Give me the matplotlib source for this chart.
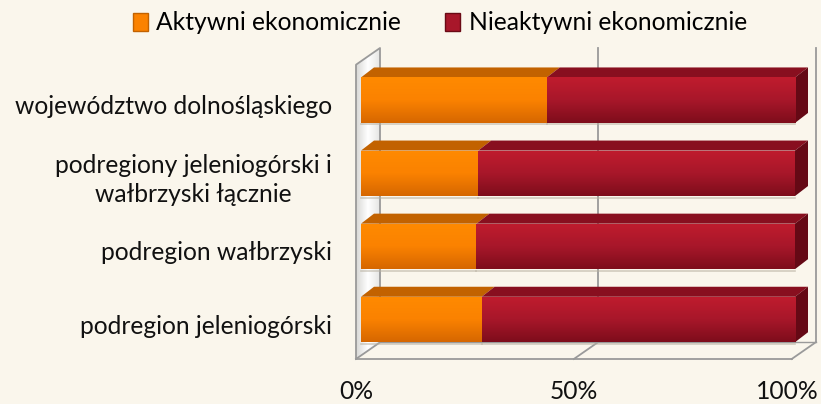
import numpy as np
import matplotlib
matplotlib.use("Agg")
import matplotlib.pyplot as plt
from matplotlib.patches import Polygon, Patch
from matplotlib.colors import LinearSegmentedColormap

categories = ["województwo dolnośląskiego",
              "podregiony jeleniogórski i\nwałbrzyski łącznie",
              "podregion wałbrzyski",
              "podregion jeleniogórski"]
aktywni = [42.8, 27.0, 26.6, 27.8]
nieaktywni = [57.2, 73.0, 73.4, 72.2]
series_names = ["Aktywni ekonomicznie", "Nieaktywni ekonomicznie"]
tick_labels = ["0%", "50%", "100%"]
tick_values = [0, 0.5, 1.0]

plt.rcParams['font.family'] = ['Lato', 'DejaVu Sans']
FS = 17.7

W, H = 821, 404
fig = plt.figure(figsize=(W / 100, H / 100), dpi=100)
bg = '#FAF6EC'
fig.patch.set_facecolor(bg)

# x: 0..1 -> px 361..795 ; padded range so 3D parts are not clipped
px0, px1 = 361, 795
xpx = px1 - px0
pad = 40 / xpx
XL = (-pad, 1 + pad)
ax_left_px = px0 - 40
ax_right_px = px1 + 40
px_top, px_bot = 40, 372
ax = fig.add_axes([ax_left_px / W, (H - px_bot) / H, (ax_right_px - ax_left_px) / W, (px_bot - px_top) / H])
ax.set_facecolor('none')
ypx = 73.1
y_top = -(100.2 - px_top) / ypx
y_bot = 3 + (px_bot - 319.5) / ypx
ax.set_xlim(*XL)
ax.set_ylim(y_bot, y_top)
ax.axis('off')

# wall geometry (data units)
wdx, wdy = 24 / xpx, -16.7 / ypx
bdx, bdy = 13 / xpx, -10 / ypx
wx0 = -5 / xpx
wscale = (791.7 - 356) / xpx
floor_y = 3 + (359 - 319.5) / ypx
back_top = -(100.2 - 48) / ypx

def wx(f):
    return wx0 + f * wscale

gc = '#9a9a9a'
# left wall
lw_poly = Polygon([(wx(0), floor_y), (wx(0) + wdx, floor_y + wdy),
                   (wx(0) + wdx, back_top), (wx(0), back_top - wdy)],
                  closed=True, facecolor='#f3f3f1', edgecolor='none', zorder=1)
ax.add_patch(lw_poly)
wgrad = np.linspace(0, 1, 50).reshape(1, -1)
wcmap = LinearSegmentedColormap.from_list('w', ['#d8d8d6', '#ffffff', '#e6e6e4'])
im = ax.imshow(wgrad, extent=(wx(0), wx(0) + wdx, floor_y, back_top), cmap=wcmap,
               aspect='auto', zorder=1.1)
im.set_clip_path(lw_poly)
ax.plot([wx(0), wx(0), wx(0) + wdx, wx(0) + wdx, wx(0)],
        [floor_y, back_top - wdy, back_top, floor_y + wdy, floor_y], color=gc, lw=1.3, zorder=1.2)

# gridlines on back wall and floor
for f in tick_values[1:]:
    ax.plot([wx(f) + wdx, wx(f) + wdx], [back_top, floor_y + wdy], color=gc, lw=1.3, zorder=1)
    ax.plot([wx(f), wx(f) + wdx], [floor_y, floor_y + wdy], color=gc, lw=1.3, zorder=1)
ax.plot([wx(0), wx(1)], [floor_y, floor_y], color=gc, lw=1.3, zorder=1)
ax.plot([wx(0) + wdx, wx(1) + wdx], [floor_y + wdy, floor_y + wdy], color=gc, lw=1.0, zorder=1)

# bars
h = 45.5 / ypx
ypos = np.arange(len(categories))
akt = np.array(aktywni) / 100
nie = np.array(nieaktywni) / 100

styles = [
    dict(front=['#FF8A00', '#FB8200', '#D66700'], top='#C26200', side='#A85200', name=series_names[0]),
    dict(front=['#C01C2E', '#A8172A', '#7E0D1B'], top='#880F1F', side='#650915', name=series_names[1]),
]
lefts = [np.zeros_like(akt), akt]
widths = [akt, nie]
for si, st in enumerate(styles):
    bars = ax.barh(ypos, widths[si], left=lefts[si], height=h, color=st['front'][1],
                   edgecolor='none', zorder=3)
    cmap = LinearSegmentedColormap.from_list('c%d' % si, st['front'])
    g = np.linspace(0, 1, 64).reshape(-1, 1)
    for b in bars:
        x0, y0 = b.get_x(), b.get_y()
        x1, y1 = x0 + b.get_width(), y0 + b.get_height()
        im = ax.imshow(g, extent=(x0, x1, y1, y0), cmap=cmap, aspect='auto',
                       origin='upper', zorder=3.1)
        im.set_clip_path(b)
        # shadow under bar
        ax.plot([x0, x1], [y1 + 0.02, y1 + 0.02], color='#b8b0a0', lw=1.2, alpha=0.6, zorder=2.8)
        # top face
        ax.add_patch(Polygon([(x0, y0), (x1, y0), (x1 + bdx, y0 + bdy), (x0 + bdx, y0 + bdy)],
                             closed=True, facecolor=st['top'], edgecolor='none', zorder=2.9))
        if si == len(styles) - 1:
            ax.add_patch(Polygon([(x1, y0), (x1 + bdx, y0 + bdy), (x1 + bdx, y1 + bdy), (x1, y1)],
                                 closed=True, facecolor=st['side'], edgecolor='none', zorder=2.9))

ax.set_xlim(*XL)
ax.set_ylim(y_bot, y_top)

# category labels
for i, c in enumerate(categories):
    ax.text(-29 / xpx, i + 0.09, c, ha='right', va='center', fontsize=FS,
            linespacing=1.35, multialignment='center', color='#111111', clip_on=False)

# tick labels (last one nudged inward so it fits like the reference)
nudges = [0, 0, -4 / xpx]
for f, t, n in zip(tick_values, tick_labels, nudges):
    ax.text(wx(f) + n, 3 + (391 - 319.5) / ypx, t, ha='center', va='center', fontsize=FS,
            color='#111111', clip_on=False)

# legend
handles = [Patch(facecolor=styles[0]['front'][1], edgecolor='#C26200', label=series_names[0]),
           Patch(facecolor=styles[1]['front'][1], edgecolor='#6a0a15', label=series_names[1])]
fig.legend(handles=handles, loc='center', bbox_to_anchor=(440 / W, 1 - 23 / H), ncol=2,
           frameon=False, fontsize=FS, handlelength=0.6, handleheight=0.7, handletextpad=0.35,
           columnspacing=1.8, borderaxespad=0)

fig.savefig('out.png', dpi=100, facecolor=bg)
